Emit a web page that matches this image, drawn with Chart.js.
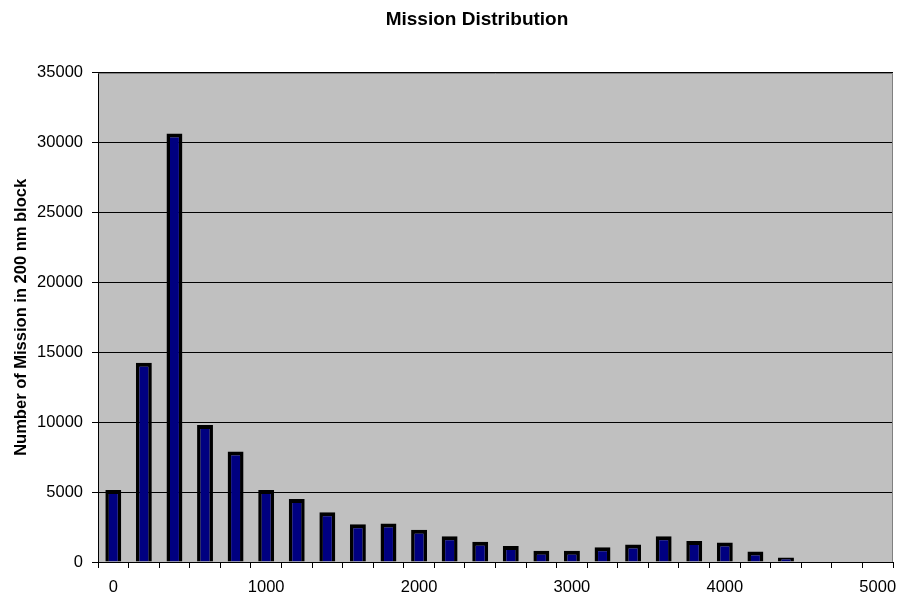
<!DOCTYPE html>
<html>
<head>
<meta charset="utf-8">
<title>Mission Distribution</title>
<script src="https://cdn.jsdelivr.net/npm/chart.js@4.4.1/dist/chart.umd.min.js"></script>
<style>
  html, body { margin: 0; padding: 0; background: #ffffff; }
  #chart { display: block; }
</style>
</head>
<body>
<canvas id="chart" width="899" height="599"></canvas>
<script>
// Range blocks in nautical miles (200 nm wide)
const blocks = ['0', '200', '400', '600', '800', '1000', '1200', '1400', '1600', '1800',
                '2000', '2200', '2400', '2600', '2800', '3000', '3200', '3400', '3600', '3800',
                '4000', '4200', '4400', '4600', '4800', '5000'];

// Number of missions falling in each block
const missions = [5150, 14250, 30650, 9800, 7900, 5150, 4500, 3550, 2700, 2750,
                  2300, 1850, 1450, 1150, 800, 800, 1050, 1250, 1850, 1500,
                  1400, 750, 330, 0, 0, 0];

// Block labels printed under the axis
const shownTicks = ['0', '1000', '2000', '3000', '4000', '5000'];

const chartTitle = 'Mission Distribution';
const yTitle = 'Number of Mission in 200 nm block';
const FONT = '"Liberation Sans", Arial, Helvetica, sans-serif';

// Grey plot area, grey top/right frame and the chart heading
const plotDecor = {
  id: 'plotDecor',
  beforeDraw(chart) {
    const { ctx, chartArea: a } = chart;
    ctx.save();
    ctx.fillStyle = '#c0c0c0';
    ctx.fillRect(a.left, a.top, a.right - a.left, a.bottom - a.top);
    ctx.restore();
  },
  beforeDatasetsDraw(chart) {
    const { ctx, chartArea: a } = chart;
    ctx.save();
    ctx.strokeStyle = '#808080';
    ctx.lineWidth = 1;
    ctx.beginPath();
    ctx.moveTo(Math.round(a.left) + 0.5, Math.round(a.top) + 0.5);
    ctx.lineTo(Math.round(a.right) - 0.5, Math.round(a.top) + 0.5);
    ctx.lineTo(Math.round(a.right) - 0.5, Math.round(a.bottom));
    ctx.stroke();
    ctx.restore();
  },
  afterDraw(chart) {
    const { ctx } = chart;
    ctx.save();
    ctx.fillStyle = '#000000';
    ctx.font = 'bold 19px ' + FONT;
    ctx.textAlign = 'center';
    ctx.textBaseline = 'middle';
    ctx.fillText(chartTitle, 477, 19.5);
    ctx.restore();
  }
};

new Chart(document.getElementById('chart'), {
  type: 'bar',
  data: {
    labels: blocks,
    datasets: [{
      data: missions,
      backgroundColor: '#000080',
      borderColor: '#000000',
      borderWidth: { top: 4, left: 3.5, right: 3.5, bottom: 0 },
      borderSkipped: false,
      barPercentage: 0.52,
      categoryPercentage: 1.0
    }]
  },
  options: {
    responsive: false,
    devicePixelRatio: 1,
    animation: false,
    layout: { padding: { top: 72.7, right: 6, left: 0, bottom: 0 } },
    plugins: {
      legend: { display: false },
      tooltip: { enabled: false },
      title: { display: false }
    },
    scales: {
      x: {
        type: 'category',
        offset: true,
        grid: {
          offset: true,
          drawOnChartArea: false,
          drawTicks: true,
          tickLength: 6,
          color: '#000000'
        },
        border: { display: true, color: '#000000', width: 1 },
        ticks: {
          autoSkip: false,
          maxRotation: 0,
          minRotation: 0,
          padding: 10,
          color: '#000000',
          font: { family: FONT, size: 16.5 },
          callback(value, index) {
            const lbl = blocks[index];
            return shownTicks.includes(lbl) ? lbl : '';
          }
        },
        afterFit(scale) {
          scale.height = 37;
          scale.paddingLeft = 0;
          scale.paddingRight = 0;
        }
      },
      y: {
        min: 0,
        max: 35000,
        grid: {
          drawTicks: true,
          tickLength: 6,
          color: '#000000',
          lineWidth: 1
        },
        border: { display: true, color: '#000000', width: 1 },
        ticks: {
          stepSize: 5000,
          padding: 9,
          color: '#000000',
          font: { family: FONT, size: 16.5 },
          callback(value) { return String(value); }
        },
        title: {
          display: true,
          text: yTitle,
          color: '#000000',
          font: { family: FONT, size: 16.5, weight: 'bold' },
          padding: { top: 12, bottom: 0 }
        },
        afterFit(scale) {
          scale.width = 98;
          scale.paddingTop = 0;
          scale.paddingBottom = 0;
        }
      }
    }
  },
  plugins: [plotDecor]
});
</script>
</body>
</html>
